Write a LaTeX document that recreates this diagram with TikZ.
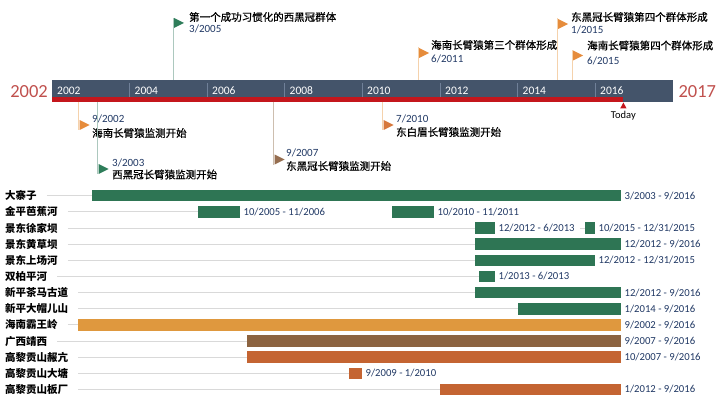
\documentclass[tikz,border=0pt]{standalone}
\usepackage{fontspec}
\setmainfont{Carlito}
\newfontfamily\cjk{Noto Sans CJK SC}
\newfontfamily\cjkmed[FakeBold=0.8]{Noto Sans CJK SC}
\usetikzlibrary{
  positioning,
  calc
}
\definecolor{tlDark}{RGB}{68,84,106}
\definecolor{tlRed}{RGB}{196,22,28}
\definecolor{tlSep}{RGB}{112,128,152}
\definecolor{bigRed}{RGB}{192,80,77}
\definecolor{dateBlue}{RGB}{32,56,100}
\definecolor{gGreen}{RGB}{46,117,84}
\definecolor{gOrange}{RGB}{223,152,62}
\definecolor{gBrown}{RGB}{140,99,64}
\definecolor{gRust}{RGB}{196,100,50}
\definecolor{gGrid}{RGB}{217,217,217}
\definecolor{flagGreen}{RGB}{46,125,90}
\definecolor{flagOrange}{RGB}{230,140,60}
\definecolor{flagBrown}{RGB}{150,110,80}
\definecolor{flagRust}{RGB}{215,120,60}
\definecolor{stemGreen}{RGB}{172,200,190}
\definecolor{stemOrange}{RGB}{245,210,172}
\definecolor{stemBrown}{RGB}{205,190,175}
\tikzset{
  tlbar/.style={
    fill=tlDark,
    inner sep=0pt,
    minimum height=22pt,
    anchor=north west
  },
  progline/.style={
    fill=tlRed,
    inner sep=0pt,
    minimum height=4.5pt,
    anchor=south west
  },
  tlsep/.style={
    draw=tlSep,
    line width=0.8pt
  },
  yearlbl/.style={
    anchor=west,
    inner sep=0pt,
    text=white,
    font=\fontsize{11.5}{12}\selectfont
  },
  bigyear/.style={
    inner sep=0pt,
    text=bigRed,
    font=\fontsize{18.5}{20}\selectfont
  },
  todaylbl/.style={
    inner sep=0pt,
    font=\fontsize{10.5}{11}\selectfont
  },
  stem/.style={
    line width=1pt
  },
  mstitle/.style={
    anchor=west,
    inner sep=0pt,
    font=\cjkmed\fontsize{10.5}{12}\selectfont
  },
  msdate/.style={
    anchor=west,
    inner sep=0pt,
    text=dateBlue,
    font=\fontsize{11}{12}\selectfont
  },
  rowlabel/.style={
    anchor=west,
    inner sep=0pt,
    font=\cjk\bfseries\fontsize{10.5}{12}\selectfont
  },
  gbar/.style={
    anchor=west,
    inner sep=0pt,
    minimum height=11.5pt
  },
  bardate/.style={
    inner sep=0pt,
    text=dateBlue,
    font=\fontsize{10.7}{12}\selectfont
  },
  gridline/.style={
    draw=gGrid,
    line width=0.9pt
  }
}
\begin{document}
\begin{tikzpicture}[x=1pt, y=-1pt]
  \useasboundingbox (0,0) rectangle (720,401);

  % timeline bar
  \node[tlbar, minimum width=621pt] (tl) at (52,80) {};
  \node[progline, minimum width=571pt] (prog) at (52,102) {};
  \node[bigyear, left=4pt of tl] (ystart) {2002};
  \node[bigyear, right=5pt of tl] (yend) {2017};

  \draw[tlsep] (129.5,83) -- (129.5,97);
  \draw[tlsep] (207,83) -- (207,97);
  \draw[tlsep] (284.5,83) -- (284.5,97);
  \draw[tlsep] (362,83) -- (362,97);
  \draw[tlsep] (440,83) -- (440,97);
  \draw[tlsep] (517.5,83) -- (517.5,97);
  \draw[tlsep] (595,83) -- (595,97);
  \node[yearlbl] (y2002) at (57,90.5) {2002};
  \node[yearlbl] (y2004) at (134.5,90.5) {2004};
  \node[yearlbl] (y2006) at (212,90.5) {2006};
  \node[yearlbl] (y2008) at (289.5,90.5) {2008};
  \node[yearlbl] (y2010) at (367,90.5) {2010};
  \node[yearlbl] (y2012) at (445,90.5) {2012};
  \node[yearlbl] (y2014) at (522.5,90.5) {2014};
  \node[yearlbl] (y2016) at (600,90.5) {2016};

  % today
  \coordinate (today) at (prog.south east);
  \fill[tlRed] ($(today)+(0,0.5)$) -- ++(3.2,6) -- ++(-6.4,0) -- cycle;
  \node[todaylbl, below=9.5pt of today] (todaytxt) {Today};

  % milestones above
  \coordinate (m1) at (173,18);
  \draw[stem, draw=stemGreen] (m1 |- tl.north) -- (m1);
  \fill[flagGreen] ($(m1)+(1,0)$) -- ++(10,5) -- ++(-10,5) -- cycle;
  \node[mstitle] (m1t) at (189,17) {第一个成功习惯化的西黑冠群体};
  \node[msdate] (m1d) at (189,28.5) {3/2005};

  \coordinate (m2) at (418,47.5);
  \draw[stem, draw=stemOrange] (m2 |- tl.north) -- (m2);
  \fill[flagOrange] ($(m2)+(1,0.5)$) -- ++(10,5) -- ++(-10,5) -- cycle;
  \node[mstitle] (m2t) at (431,45) {海南长臂猿第三个群体形成};
  \node[msdate] (m2d) at (431,58.5) {6/2011};

  \coordinate (m3) at (557,18.5);
  \draw[stem, draw=stemOrange] (m3 |- tl.north) -- (m3);
  \fill[flagOrange] ($(m3)+(1,0.5)$) -- ++(10,5) -- ++(-10,5) -- cycle;
  \node[mstitle] (m3t) at (571,17) {东黑冠长臂猿第四个群体形成};
  \node[msdate] (m3d) at (571,29.5) {1/2015};

  \coordinate (m4) at (572,50);
  \draw[stem, draw=stemOrange] (m4 |- tl.north) -- (m4);
  \fill[flagOrange] ($(m4)+(1,0.5)$) -- ++(10,5) -- ++(-10,5) -- cycle;
  \node[mstitle] (m4t) at (587,45.5) {海南长臂猿第四个群体形成};
  \node[msdate] (m4d) at (587,61) {6/2015};

  % milestones below
  \coordinate (b1) at (78,130);
  \draw[stem, draw=stemOrange] (b1 |- prog.south) -- (b1);
  \fill[flagOrange] ($(b1)+(1.5,-10)$) -- ++(10,5) -- ++(-10,5) -- cycle;
  \node[msdate] (b1d) at (92,118.5) {9/2002};
  \node[mstitle] (b1t) at (92,133) {海南长臂猿监测开始};

  \coordinate (b2) at (97,174);
  \draw[stem, draw=stemGreen] (b2 |- prog.south) -- (b2);
  \fill[flagGreen] ($(b2)+(1.5,-10)$) -- ++(10,5) -- ++(-10,5) -- cycle;
  \node[msdate] (b2d) at (112,163) {3/2003};
  \node[mstitle] (b2t) at (112,174.5) {西黑冠长臂猿监测开始};

  \coordinate (b3) at (273,164.5);
  \draw[stem, draw=stemBrown] (b3 |- prog.south) -- (b3);
  \fill[flagBrown] ($(b3)+(1.5,-10)$) -- ++(10,5) -- ++(-10,5) -- cycle;
  \node[msdate] (b3d) at (286,153) {9/2007};
  \node[mstitle] (b3t) at (286,166) {东黑冠长臂猿监测开始};

  \coordinate (b4) at (382,130);
  \draw[stem, draw=stemOrange] (b4 |- prog.south) -- (b4);
  \fill[flagRust] ($(b4)+(1.5,-10)$) -- ++(10,5) -- ++(-10,5) -- cycle;
  \node[msdate] (b4d) at (396,118.5) {7/2010};
  \node[mstitle] (b4t) at (396,132) {东白眉长臂猿监测开始};

  % gantt rows
  \node[rowlabel] (r1) at (5,195.7) {大寨子};
  \node[rowlabel] (r2) at (5,211.9) {金平芭蕉河};
  \node[rowlabel] (r3) at (5,228) {景东徐家坝};
  \node[rowlabel] (r4) at (5,244.2) {景东黄草坝};
  \node[rowlabel] (r5) at (5,260.3) {景东上场河};
  \node[rowlabel] (r6) at (5,276.5) {双柏平河};
  \node[rowlabel] (r7) at (5,292.6) {新平茶马古道};
  \node[rowlabel] (r8) at (5,308.8) {新平大帽儿山};
  \node[rowlabel] (r9) at (5,324.9) {海南霸王岭};
  \node[rowlabel] (r10) at (5,341.1) {广西靖西};
  \node[rowlabel] (r11) at (5,357.2) {高黎贡山赧亢};
  \node[rowlabel] (r12) at (5,373.4) {高黎贡山大塘};
  \node[rowlabel] (r13) at (5,389.5) {高黎贡山板厂};

  \node[gbar, fill=gGreen, minimum width=529pt] (dzz) at (92,195.7) {};
  \node[bardate, right=3pt of dzz] (dzz-d) {3/2003 - 9/2016};
  \node[gbar, fill=gGreen, minimum width=42pt] (jp1) at (198,211.9) {};
  \node[bardate, right=3pt of jp1] (jp1-d) {10/2005 - 11/2006};
  \node[gbar, fill=gGreen, minimum width=42pt] (jp2) at (392,211.9) {};
  \node[bardate, right=3pt of jp2] (jp2-d) {10/2010 - 11/2011};
  \node[gbar, fill=gGreen, minimum width=20pt] (xjb1) at (475,228) {};
  \node[bardate, right=3pt of xjb1] (xjb1-d) {12/2012 - 6/2013};
  \node[gbar, fill=gGreen, minimum width=10pt] (xjb2) at (585,228) {};
  \node[bardate, right=3pt of xjb2] (xjb2-d) {10/2015 - 12/31/2015};
  \node[gbar, fill=gGreen, minimum width=146pt] (hcb) at (475,244.2) {};
  \node[bardate, right=3pt of hcb] (hcb-d) {12/2012 - 9/2016};
  \node[gbar, fill=gGreen, minimum width=120pt] (sch) at (475,260.3) {};
  \node[bardate, right=3pt of sch] (sch-d) {12/2012 - 12/31/2015};
  \node[gbar, fill=gGreen, minimum width=16pt] (bpp) at (479,276.5) {};
  \node[bardate, right=3pt of bpp] (bpp-d) {1/2013 - 6/2013};
  \node[gbar, fill=gGreen, minimum width=146pt] (cmg) at (475,292.6) {};
  \node[bardate, right=3pt of cmg] (cmg-d) {12/2012 - 9/2016};
  \node[gbar, fill=gGreen, minimum width=103pt] (dme) at (518,308.8) {};
  \node[bardate, right=3pt of dme] (dme-d) {1/2014 - 9/2016};
  \node[gbar, fill=gOrange, minimum width=543pt] (bwl) at (78,324.9) {};
  \node[bardate, right=3pt of bwl] (bwl-d) {9/2002 - 9/2016};
  \node[gbar, fill=gBrown, minimum width=374pt] (jx) at (247,341.1) {};
  \node[bardate, right=3pt of jx] (jx-d) {9/2007 - 9/2016};
  \node[gbar, fill=gRust, minimum width=374pt] (nk) at (247,357.2) {};
  \node[bardate, right=3pt of nk] (nk-d) {10/2007 - 9/2016};
  \node[gbar, fill=gRust, minimum width=13pt] (dt) at (349,373.4) {};
  \node[bardate, right=3pt of dt] (dt-d) {9/2009 - 1/2010};
  \node[gbar, fill=gRust, minimum width=181pt] (bc) at (440,389.5) {};
  \node[bardate, right=3pt of bc] (bc-d) {1/2012 - 9/2016};

  \draw[gridline] ($(r1.east)+(10,0)$) -- (dzz.west);
  \draw[gridline] ($(r2.east)+(10,0)$) -- (jp1.west);
  \draw[gridline] ($(r3.east)+(10,0)$) -- (xjb1.west);
  \draw[gridline] ($(xjb1-d.east)+(5,0)$) -- (xjb2.west);
  \draw[gridline] ($(r4.east)+(10,0)$) -- (hcb.west);
  \draw[gridline] ($(r5.east)+(10,0)$) -- (sch.west);
  \draw[gridline] ($(r6.east)+(10,0)$) -- (bpp.west);
  \draw[gridline] ($(r7.east)+(10,0)$) -- (cmg.west);
  \draw[gridline] ($(r8.east)+(10,0)$) -- (dme.west);
  \draw[gridline] ($(r9.east)+(10,0)$) -- (bwl.west);
  \draw[gridline] ($(r10.east)+(10,0)$) -- (jx.west);
  \draw[gridline] ($(r11.east)+(10,0)$) -- (nk.west);
  \draw[gridline] ($(r12.east)+(10,0)$) -- (dt.west);
  \draw[gridline] ($(r13.east)+(10,0)$) -- (bc.west);
\end{tikzpicture}
\end{document}
